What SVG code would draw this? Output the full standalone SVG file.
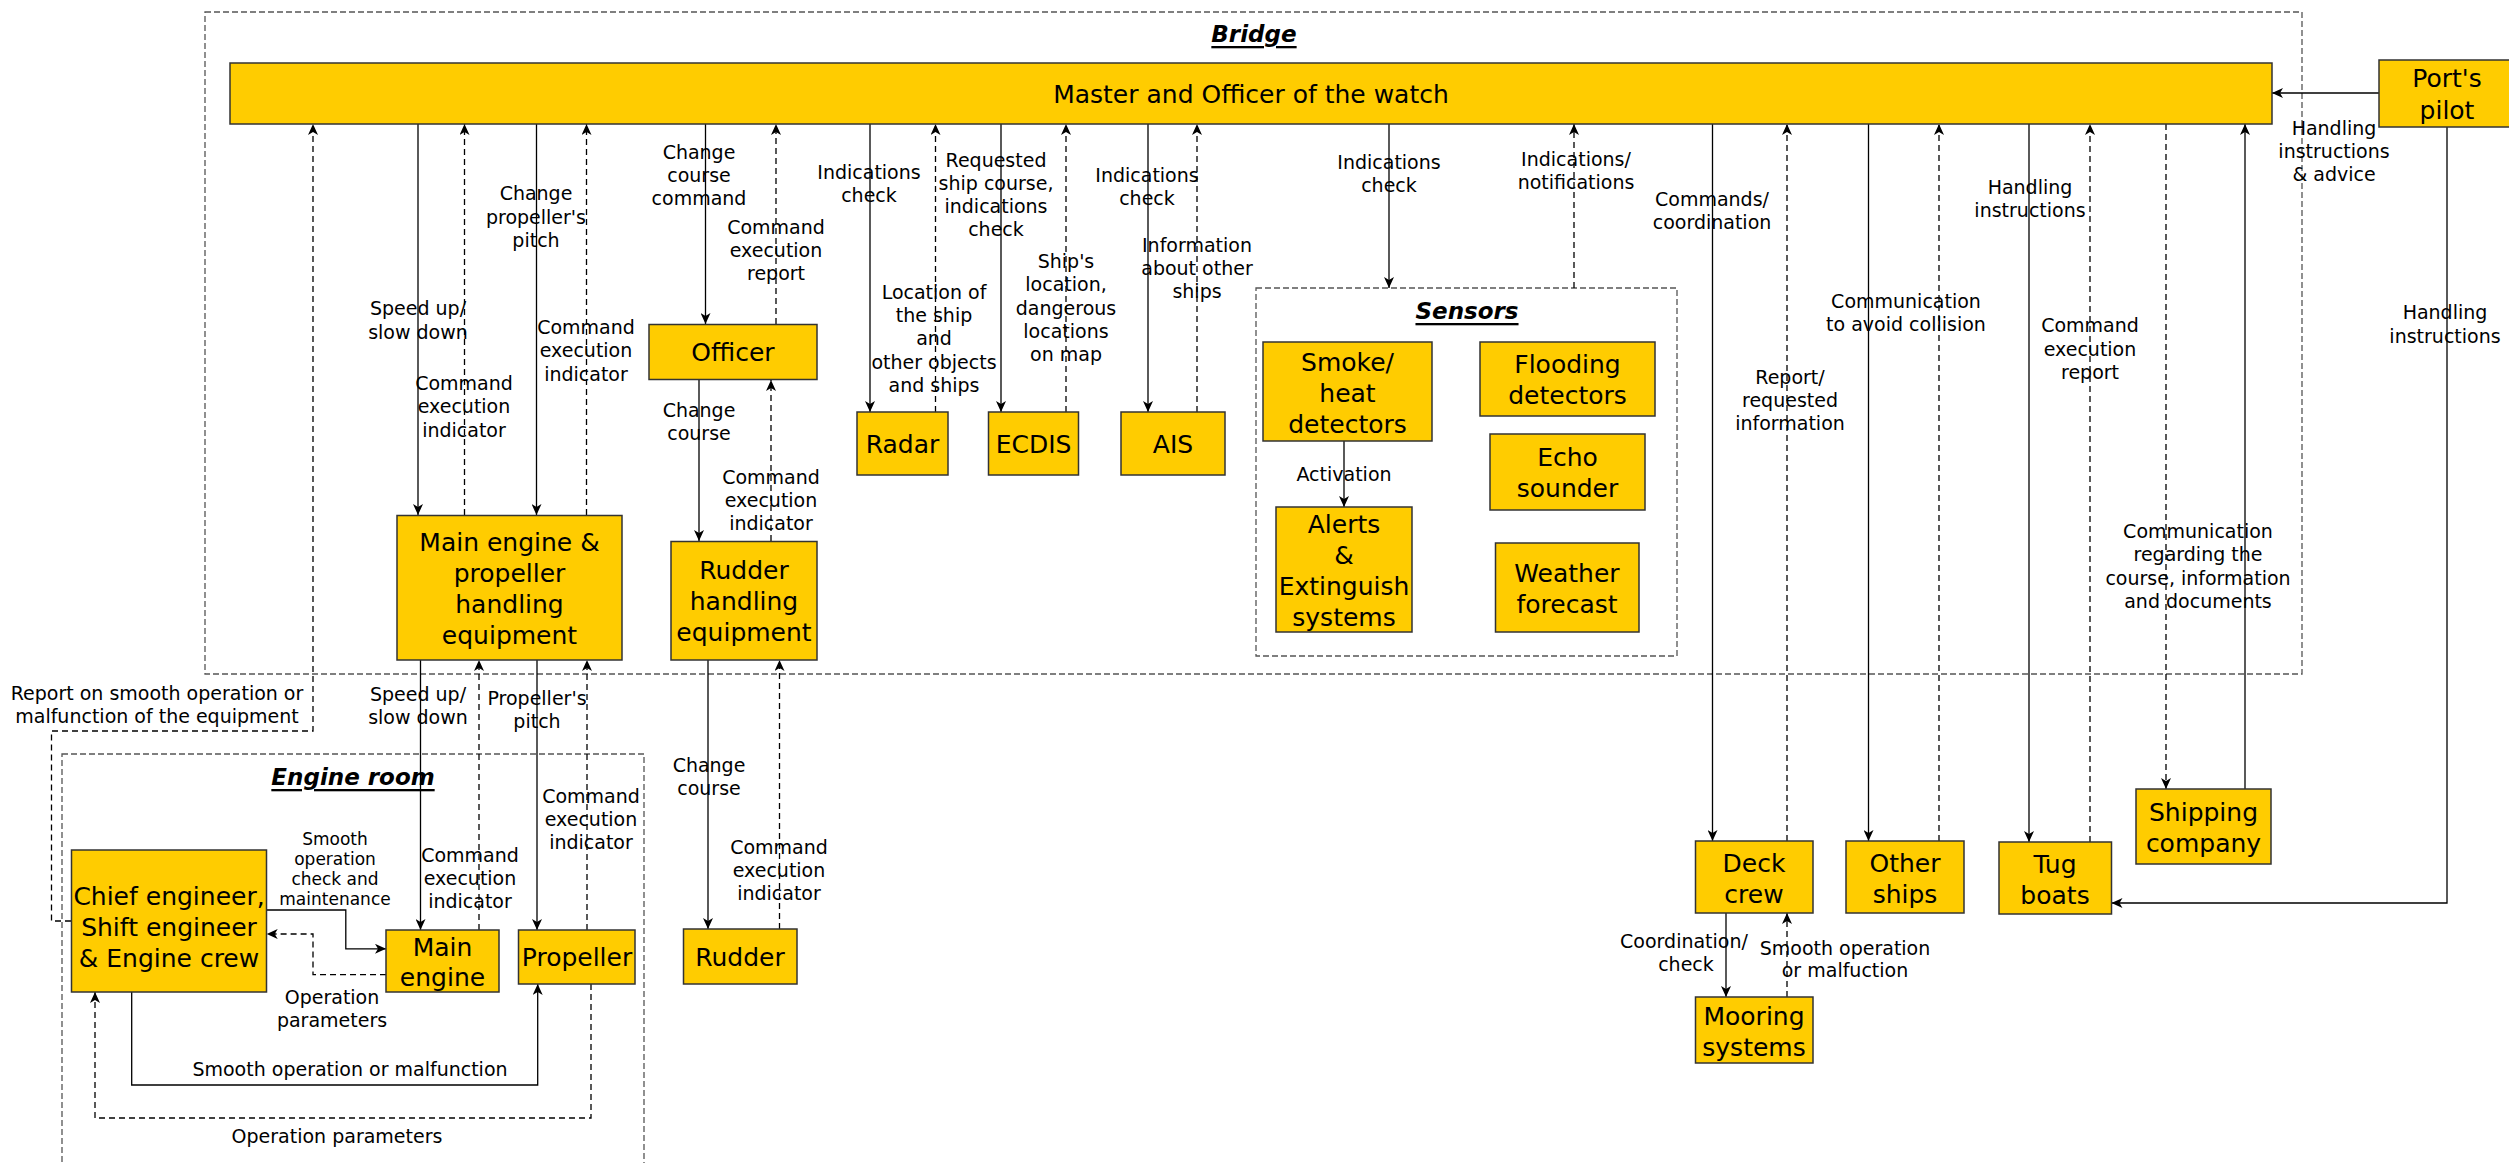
<svg xmlns="http://www.w3.org/2000/svg" width="2509" height="1163" viewBox="0 0 2509 1163">
<style>
text{font-family:"DejaVu Sans",sans-serif;fill:#000;dominant-baseline:central;text-anchor:middle}
.box{fill:#FFCC00;stroke:#333;stroke-width:1.5}
.bt{font-size:25px}
.lbl{font-size:19px}
.sm{font-size:17px}
.title{font-size:23px;font-weight:bold;font-style:italic;text-decoration:underline}
.cont{fill:none;stroke:#555;stroke-width:1.3;stroke-dasharray:6 3}
.s{fill:none;stroke:#000;stroke-width:1.3;marker-end:url(#arr)}
.d{fill:none;stroke:#000;stroke-width:1.3;stroke-dasharray:6 4;marker-end:url(#arr)}
</style>
<defs>
<marker id="arr" markerUnits="userSpaceOnUse" markerWidth="12" markerHeight="10" refX="11" refY="5" orient="auto">
<path d="M0,0 L11,5 L0,10 L3,5 Z" fill="#000"/>
</marker>
</defs>
<rect width="2509" height="1163" fill="#fff"/>

<g id="bridge">
<rect class="cont" x="205" y="12" width="2097" height="662"/>
<text class="title" x="1254" y="34">Bridge</text>
</g>
<g id="engine-room">
<rect class="cont" x="62" y="754" width="582" height="450"/>
<text class="title" x="353" y="777">Engine room</text>
</g>
<g id="sensors">
<rect class="cont" x="1256" y="288" width="421" height="368"/>
<text class="title" x="1467" y="311">Sensors</text>
</g>

<g id="connectors">
<path class="d" d="M71,921 H51.5 V731 H313 V124"/>
<text class="lbl"><tspan x="157" y="693">Report on smooth operation or</tspan><tspan x="157" y="716">malfunction of the equipment</tspan></text>

<path class="s" d="M418,124 V515"/>
<text class="lbl"><tspan x="418" y="308">Speed up/</tspan><tspan x="418" y="332">slow down</tspan></text>
<path class="d" d="M464.5,515 V124"/>
<text class="lbl"><tspan x="464" y="383">Command</tspan><tspan x="464" y="406">execution</tspan><tspan x="464" y="430">indicator</tspan></text>
<path class="s" d="M536.5,124 V515"/>
<text class="lbl"><tspan x="536" y="193">Change</tspan><tspan x="536" y="217">propeller's</tspan><tspan x="536" y="240">pitch</tspan></text>
<path class="d" d="M586.5,515 V124"/>
<text class="lbl"><tspan x="586" y="327">Command</tspan><tspan x="586" y="350">execution</tspan><tspan x="586" y="374">indicator</tspan></text>

<path class="s" d="M705.5,124 V324"/>
<text class="lbl"><tspan x="699" y="152">Change</tspan><tspan x="699" y="175">course</tspan><tspan x="699" y="198">command</tspan></text>
<path class="d" d="M776,324 V124"/>
<text class="lbl"><tspan x="776" y="227">Command</tspan><tspan x="776" y="250">execution</tspan><tspan x="776" y="273">report</tspan></text>
<path class="s" d="M699,380 V541"/>
<text class="lbl"><tspan x="699" y="410">Change</tspan><tspan x="699" y="433">course</tspan></text>
<path class="d" d="M771,541 V380"/>
<text class="lbl"><tspan x="771" y="477">Command</tspan><tspan x="771" y="500">execution</tspan><tspan x="771" y="523">indicator</tspan></text>

<path class="s" d="M870,124 V412"/>
<text class="lbl"><tspan x="869" y="172">Indications</tspan><tspan x="869" y="195">check</tspan></text>
<path class="d" d="M935.5,412 V124"/>
<text class="lbl"><tspan x="934" y="292">Location of</tspan><tspan x="934" y="315">the ship</tspan><tspan x="934" y="338">and</tspan><tspan x="934" y="362">other objects</tspan><tspan x="934" y="385">and ships</tspan></text>
<path class="s" d="M1001,124 V412"/>
<text class="lbl"><tspan x="996" y="160">Requested</tspan><tspan x="996" y="183">ship course,</tspan><tspan x="996" y="206">indications</tspan><tspan x="996" y="229">check</tspan></text>
<path class="d" d="M1066,412 V124"/>
<text class="lbl"><tspan x="1066" y="261">Ship's</tspan><tspan x="1066" y="284">location,</tspan><tspan x="1066" y="308">dangerous</tspan><tspan x="1066" y="331">locations</tspan><tspan x="1066" y="354">on map</tspan></text>
<path class="s" d="M1148,124 V412"/>
<text class="lbl"><tspan x="1147" y="175">Indications</tspan><tspan x="1147" y="198">check</tspan></text>
<path class="d" d="M1197,412 V124"/>
<text class="lbl"><tspan x="1197" y="245">Information</tspan><tspan x="1197" y="268">about other</tspan><tspan x="1197" y="291">ships</tspan></text>

<path class="s" d="M1389,124 V288"/>
<text class="lbl"><tspan x="1389" y="162">Indications</tspan><tspan x="1389" y="185">check</tspan></text>
<path class="d" d="M1574,288 V124"/>
<text class="lbl"><tspan x="1576" y="159">Indications/</tspan><tspan x="1576" y="182">notifications</tspan></text>
<path class="s" d="M1344,441 V507"/>
<text class="lbl" x="1344" y="474">Activation</text>

<path class="s" d="M1712.5,124 V841"/>
<text class="lbl"><tspan x="1712" y="199">Commands/</tspan><tspan x="1712" y="222">coordination</tspan></text>
<path class="d" d="M1787,841 V124"/>
<text class="lbl"><tspan x="1790" y="377">Report/</tspan><tspan x="1790" y="400">requested</tspan><tspan x="1790" y="423">information</tspan></text>
<path class="s" d="M1868.5,124 V841"/>
<text class="lbl"><tspan x="1906" y="301">Communication</tspan><tspan x="1906" y="324">to avoid collision</tspan></text>
<path class="d" d="M1939,841 V124"/>
<path class="s" d="M2029,124 V842"/>
<text class="lbl"><tspan x="2030" y="187">Handling</tspan><tspan x="2030" y="210">instructions</tspan></text>
<path class="d" d="M2090,842 V124"/>
<text class="lbl"><tspan x="2090" y="325">Command</tspan><tspan x="2090" y="349">execution</tspan><tspan x="2090" y="372">report</tspan></text>
<path class="d" d="M2166,124 V789"/>
<path class="s" d="M2245,789 V124"/>
<text class="lbl"><tspan x="2198" y="531">Communication</tspan><tspan x="2198" y="554">regarding the</tspan><tspan x="2198" y="578">course, information</tspan><tspan x="2198" y="601">and documents</tspan></text>

<path class="s" d="M2379,93 H2272"/>
<text class="lbl"><tspan x="2334" y="128">Handling</tspan><tspan x="2334" y="151">instructions</tspan><tspan x="2334" y="174">&amp; advice</tspan></text>
<path class="s" d="M2447,127 V903 H2111.5"/>
<text class="lbl"><tspan x="2445" y="312">Handling</tspan><tspan x="2445" y="336">instructions</tspan></text>

<path class="s" d="M420.5,660 V930"/>
<text class="lbl"><tspan x="418" y="694">Speed up/</tspan><tspan x="418" y="717">slow down</tspan></text>
<path class="d" d="M479,930 V660"/>
<text class="lbl"><tspan x="470" y="855">Command</tspan><tspan x="470" y="878">execution</tspan><tspan x="470" y="901">indicator</tspan></text>
<path class="s" d="M537,660 V930"/>
<text class="lbl"><tspan x="537" y="698">Propeller's</tspan><tspan x="537" y="721">pitch</tspan></text>
<path class="d" d="M587,930 V660"/>
<text class="lbl"><tspan x="591" y="796">Command</tspan><tspan x="591" y="819">execution</tspan><tspan x="591" y="842">indicator</tspan></text>
<path class="s" d="M708,660 V929"/>
<text class="lbl"><tspan x="709" y="765">Change</tspan><tspan x="709" y="788">course</tspan></text>
<path class="d" d="M779.5,929 V660"/>
<text class="lbl"><tspan x="779" y="847">Command</tspan><tspan x="779" y="870">execution</tspan><tspan x="779" y="893">indicator</tspan></text>

<path class="s" d="M266.7,910 H345.8 V948.8 H386"/>
<text class="sm"><tspan x="335" y="839">Smooth</tspan><tspan x="335" y="859">operation</tspan><tspan x="335" y="879">check and</tspan><tspan x="335" y="899">maintenance</tspan></text>
<path class="d" d="M386,974.6 H313 V934 H266.7"/>
<text class="lbl"><tspan x="332" y="997">Operation</tspan><tspan x="332" y="1020">parameters</tspan></text>
<path class="s" d="M131.7,992 V1085 H537.7 V984"/>
<text class="lbl" x="350" y="1069">Smooth operation or malfunction</text>
<path class="d" d="M591,984 V1118 H95 V992"/>
<text class="lbl" x="337" y="1136">Operation parameters</text>

<path class="s" d="M1726,913 V997"/>
<text class="lbl"><tspan x="1684" y="941">Coordination/</tspan><tspan x="1686" y="964">check</tspan></text>
<path class="d" d="M1787,997 V913"/>
<text class="lbl"><tspan x="1845" y="948">Smooth operation</tspan><tspan x="1845" y="970">or malfuction</tspan></text>
</g>

<g id="master"><rect class="box" x="230" y="63" width="2042" height="61"/><text class="bt" x="1251" y="94">Master and Officer of the watch</text></g>
<g id="pilot"><rect class="box" x="2379" y="60" width="136" height="67"/><text class="bt"><tspan x="2447" y="78">Port's</tspan><tspan x="2447" y="110">pilot</tspan></text></g>
<g id="officer"><rect class="box" x="649" y="324.5" width="168" height="55"/><text class="bt" x="733" y="352">Officer</text></g>
<g id="meph"><rect class="box" x="397" y="515.5" width="225" height="144.5"/><text class="bt"><tspan x="509.5" y="542">Main engine &amp;</tspan><tspan x="509.5" y="573">propeller</tspan><tspan x="509.5" y="604">handling</tspan><tspan x="509.5" y="635">equipment</tspan></text></g>
<g id="rhe"><rect class="box" x="671" y="541.5" width="146" height="118.5"/><text class="bt"><tspan x="744" y="570">Rudder</tspan><tspan x="744" y="601">handling</tspan><tspan x="744" y="632">equipment</tspan></text></g>
<g id="radar"><rect class="box" x="857" y="412" width="91" height="63"/><text class="bt" x="902.5" y="444">Radar</text></g>
<g id="ecdis"><rect class="box" x="988.5" y="412" width="90" height="63"/><text class="bt" x="1033.5" y="444">ECDIS</text></g>
<g id="ais"><rect class="box" x="1121" y="412" width="104" height="63"/><text class="bt" x="1173" y="444">AIS</text></g>
<g id="smoke"><rect class="box" x="1263" y="342" width="169" height="99"/><text class="bt"><tspan x="1347.5" y="362">Smoke/</tspan><tspan x="1347.5" y="393">heat</tspan><tspan x="1347.5" y="424">detectors</tspan></text></g>
<g id="flooding"><rect class="box" x="1480" y="342" width="175" height="74"/><text class="bt"><tspan x="1567.5" y="364">Flooding</tspan><tspan x="1567.5" y="395">detectors</tspan></text></g>
<g id="echo"><rect class="box" x="1490" y="434" width="155" height="76"/><text class="bt"><tspan x="1567.5" y="457">Echo</tspan><tspan x="1567.5" y="488">sounder</tspan></text></g>
<g id="weather"><rect class="box" x="1495.5" y="543" width="143.5" height="89"/><text class="bt"><tspan x="1567" y="573">Weather</tspan><tspan x="1567" y="604">forecast</tspan></text></g>
<g id="alerts"><rect class="box" x="1276" y="507" width="136" height="125"/><text class="bt"><tspan x="1344" y="524">Alerts</tspan><tspan x="1344" y="555">&amp;</tspan><tspan x="1344" y="586">Extinguish</tspan><tspan x="1344" y="617">systems</tspan></text></g>
<g id="chief"><rect class="box" x="71.5" y="850" width="195" height="142"/><text class="bt"><tspan x="169" y="896">Chief engineer,</tspan><tspan x="169" y="927">Shift engineer</tspan><tspan x="169" y="958">&amp; Engine crew</tspan></text></g>
<g id="main-engine"><rect class="box" x="386" y="930" width="113" height="62"/><text class="bt"><tspan x="442.5" y="947">Main</tspan><tspan x="442.5" y="977">engine</tspan></text></g>
<g id="propeller"><rect class="box" x="518.5" y="930" width="116.5" height="54"/><text class="bt" x="577" y="957">Propeller</text></g>
<g id="rudder"><rect class="box" x="683.5" y="929" width="113.5" height="55"/><text class="bt" x="740" y="957">Rudder</text></g>
<g id="deck-crew"><rect class="box" x="1695.5" y="841" width="117.5" height="72"/><text class="bt"><tspan x="1754" y="863">Deck</tspan><tspan x="1754" y="894">crew</tspan></text></g>
<g id="other-ships"><rect class="box" x="1846" y="841" width="118" height="72"/><text class="bt"><tspan x="1905" y="863">Other</tspan><tspan x="1905" y="894">ships</tspan></text></g>
<g id="tug-boats"><rect class="box" x="1999" y="842" width="112.5" height="72"/><text class="bt"><tspan x="2055" y="864">Tug</tspan><tspan x="2055" y="895">boats</tspan></text></g>
<g id="shipping"><rect class="box" x="2136" y="789" width="135" height="75"/><text class="bt"><tspan x="2203.5" y="812">Shipping</tspan><tspan x="2203.5" y="843">company</tspan></text></g>
<g id="mooring"><rect class="box" x="1695.5" y="997" width="117.5" height="66"/><text class="bt"><tspan x="1754" y="1016">Mooring</tspan><tspan x="1754" y="1047">systems</tspan></text></g>
</svg>
